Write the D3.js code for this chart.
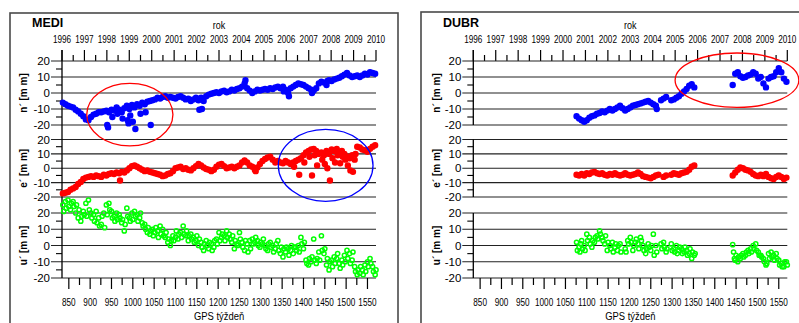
<!DOCTYPE html>
<html>
<head>
<meta charset="utf-8">
<script src="https://cdn.jsdelivr.net/npm/d3@7"></script>
<style>
  body { margin: 0; background: #fff; }
  svg { display: block; font-family: "Liberation Sans", Arial, sans-serif; }
</style>
</head>
<body>
<svg id="chart" width="799" height="323"></svg>
<script>
// ── Data ────────────────────────────────────────────────────────────────
// Weekly GPS residuals (mm). One slot every 6 weeks from the start week;
// a slot holding an array lists successive observations (2 weeks apart).

const yearLabels = [1996, 1997, 1998, 1999, 2000, 2001, 2002, 2003, 2004, 2005, 2006, 2007, 2008, 2009, 2010];
const weekLabels = [850, 900, 950, 1000, 1050, 1100, 1150, 1200, 1250, 1300, 1350, 1400, 1450, 1500, 1550];
const weekMinorTicks = [875, 925, 975, 1025, 1075, 1125, 1175, 1225, 1275, 1325, 1375, 1425, 1475, 1525];
const valueTicks = [20, 10, 0, -10, -20];
const valueMinorTicks = [15, 5, -5, -15];

const MEDI_START = 836, DUBR_START = 1076, SLOT = 6;

const mediN = [
  -6, -7, -8, -8.5, -9, -10.5, -11.5, -13, -14.5, -16.5,
  -17, -15, -13.5, -13, -12, -12, -11.5, [-11, -20, -21.5], -12, [-10.5, -15],
  -11, [-9, -13], -10.5, [-12, -16], -9.5, [-8, -17, -19], [-10, -14], [-7.5, -18], [-9, -22.5], -7,
  [-8, -13], -6, [-7, -12], -5.5, [-5, -20], -4.5, -4, -3, -3.5, -2.5,
  -2, -3, -2.5, -3, -3.5, -2.5, -2, -3, -4, -3.5,
  -5, -4, -3, [-4.5, -10.5], [-3, -10], -5, -2, -1, -0.5, 0,
  0.5, 0, 1, 1.5, 0.5, 1, 2, 1.5, 2.5, 3,
  4, [6, 8], 3, 1.5, 0, 1, 2, 1.5, 2, 2.5,
  2, 3, 2.5, 3.5, 4, 3, [4, 1], 2, [0, -2], 3,
  4, 5, 6, 5.5, 5, 4, 3, [2, 0], 1.5, 3,
  6, 7, 6.5, [5, 7.5], 8, 7.5, 8.5, 9, 9.5, 10.5,
  11.5, 12.5, 11, 10, 10.5, 11, 10, 11, 12, 11.5,
  13, 12.5, 12
];

const mediE = [
  -17.5, -17, -16.5, -15, -14, -13, -11, -9.5, -7.5, -6.5,
  -6, -5.5, -6, -5, -5.5, -6, -4.5, -5, -4, -3.5,
  -4, -3, [-3.5, -8.5], -2.5, -3, -1.5, 0, 1.5, 2, 1,
  0, -1, -2, -1.5, -2.5, -3, -3.5, -4, -4.5, -5.5,
  -5, -4, -3.5, -2, 0, 0.5, 1, -0.5, 0, -1,
  -1.5, 0, 1.5, 3, 2, 0.5, -0.5, -1, -2, -1,
  1, 2.5, 3, 1.5, 0, 0.5, 1, 0, 1, 2,
  4, 5.5, 4, 2, 1, [-1, -2], 0.5, 3, 5, 6.5,
  7.5, 8, 6, 4, 5, 4, 3.5, 5, 4, 3,
  [4, 1], 5, [6, -4.5], 7, [9, 4], 11, [12, 8], [13, -5], [13.5, 9], [12, 2],
  10, [11, 6], [9, 3], [12, 0], [10, -8.5], [13, 7], [12, 4], [13.5, 9], [11, 3.5], [12, 8],
  [10, 6], [8, 2], [7, -1.5], [9, -2.5], [6, 10], 15, 14.5, 13, 12.5, 11.5,
  13.5, 15, 16
];

const mediU = [
  [25, 21], [27, 23], [28, 24], [22, 26], [27, 24], [20, 25], [17, 22], [15, 18], [21, 19], [26, 18],
  [28, 22], [20, 17], [19, 15], [21, 14], [17, 12], [13, 18], [20, 11], [25, 19], [26, 22], [21, 17],
  [18, 15], [20, 16], [19, 17], [14, 16], [9, 13], [23, 18], [17, 15], [20, 16], [21, 18], [19, 15],
  [17, 20], [14, 12], [13, 10], [8, 11], [7, 9], [10, 6], [8, 11], [9, 5], [12, 7], [10, 6],
  [5, 8], [2, 4], [0, 3], [6, 3], [5, 9], [4, 7], [8, 5], [12, 7], [6, 9], [3, 6],
  [7, 4], [5, 2], [3, 6], [0, 4], [2, -1], [-3, 1], [3, 0], [-2, 2], [1, -3], [-1, 3],
  [4, 1], [8, 3], [5, 7], [6, 3], [9, 5], [7, 4], [2, 6], [-2, 3], [1, 0], [8, 4],
  [2, -1], [-3, 3], [1, -4], [3, -2], [4, 1], [2, 5], [3, 0], [-1, 2], [1, 4], [0, -2],
  [-3, 1], [2, -1], [0, -4], [-2, 1], [3, -3], [-5, -1], [-7, -2], [-4, -1], [-2, -6], [-3, 0],
  [-5, -1], [-1, -3], [0, -4], [5, 1], [-2, 2], [-9, -11], [-12, -8], [-10, -7], [4, -9], [-11, -8],
  [-4, -9], [6, -3], [-5, -2], [-12, -8], [-15, -10], [-9, -13], [-7, -11], [-8, -5], [-11, -14], [-9, -12],
  [-6, -10], [-3, -8], [-5, -11], [-9, -4], [-13, -16], [-18, -15], [-17, -13], [-15, -18], [-12, -16], [-10, -13],
  [-8, -11], [-13, -16], [-18, -15]
];

const dubrN = [
  -14.5, -16, -17, -18, -17, -15.5, -14.5, -14, -13, -12.5,
  -11.5, -12, -11, -10, -11, -10, -9, -8, -9.5, -11,
  -10, -9, -8, -7.5, -7, -6.5, -6, -5.5, -5, -6,
  -7, [-8, -10], null, -4.5, -3.5, -2.5, null, -4.5, -4, -3,
  -2, -0.5, 1, 2.5, 4.5, 5.5, 3.5, null, null, null,
  null, null, null, null, null, null, null, null, null, null,
  null, 5, 12, 13, 10.5, 9.5, 10, 11, 11.5, 13,
  12, 9, 10, 6, 3.5, 9, 10, 10.5, 13, 15.5,
  13, 9, 7
];

const dubrE = [
  -4.5, -5, -4, -5, -3.5, -4, -3, -2.5, -3.5, -4,
  -3.5, -4.5, -5, -4, -4.5, -3.5, -4.5, -5, -4.5, -3.5,
  -4.5, -5, -4.5, -4, -3, -4, -5.5, -6, -6.5, -7,
  -6, -5, -4.5, null, -6, -5, null, -4.5, -3.5, -4,
  -4.5, -3.5, -3, -2.5, -1, 1, 2, null, null, null,
  null, null, null, null, null, null, null, null, null, null,
  null, -5, -3, -1, 0.5, 0, -1, -1.5, -2.5, -4,
  -5, -5.5, -4.5, -5.5, -4, -6, -7, -7.5, -6, -5,
  -6, -7.5, -6.5
];

const dubrU = [
  [2, -3], [-1, -4, 1], [3, -2], [0, -3], [7, 3], [5, 1], [-1, 3], [2, 5], [6, 4], [9, 7],
  [5, 3], [1, 6], [-3, 2], [0, -2], [2, -4], [-1, 1], [-3, 0], [1, -4], null, [-2, -4],
  [3, 1], [5, 2], [-3, 0], [2, 4], [1, -2], [5, 3], [0, -3], [-5, -2], [1, -1], [-3, 0],
  [7, -6], [0, -4], null, [1, -2], [2, -1], [-4, -2], null, [1, -3], [-2, -4], [0, -5],
  [-3, -1], [-2, -5], [-4, -1], [-3, -6], [-5, -2], [-8, -4], [-6, -5], null, null, null,
  null, null, null, null, null, null, null, null, null, null,
  null, [0.5, -4, -8], [-9, -6], [-10, -7], [-8, -6], [-5, -7], [-6, -4], [-3, -5], [-2, -4], [0, -2],
  [1, -3], [-4, -6], [-6, -7], [-8, -10], [-12, -11], [-5, -8], [-4, -7], [-6, -9], [-5, -8], [-9, -12],
  [-11, -13], [-13, -10], [-10, -12]
];

// Hand-drawn highlight ellipses, in data units (week, mm)
const mediRings = [
  { row: 'n', week: 993, value: -13.5, rWeeks: 101, rMm: 19.5, color: '#ff0000' },
  { row: 'e', week: 1452, value: 2, rWeeks: 111, rMm: 25, color: '#0000ff' }
];
const dubrRings = [
  { row: 'n', week: 1452, value: 8, rWeeks: 145, rMm: 17, color: '#ff0000' }
];

// ── Layout ──────────────────────────────────────────────────────────────

const ROWS = [
  { key: 'n', label: 'n\u00b4 [m m]', top: 61, bottom: 125, color: '#0000ff', fill: true },
  { key: 'e', label: 'e\u00b4 [m m]', top: 139.5, bottom: 197, color: '#ff0000', fill: true },
  { key: 'u', label: 'u\u00b4 [m m]', top: 213, bottom: 278, color: '#00ff00', fill: false }
];

const PLOT_W = 314;
const NARROW = 0.82; // Arial Narrow look, via horizontal squeeze

const panels = [
  { name: 'MEDI', x0: 62, frame: { x: 10, y: 13, w: 388 }, titleX: 32, labelX: 23,
    start: MEDI_START, series: { n: mediN, e: mediE, u: mediU }, rings: mediRings, splitAxis: false },
  { name: 'DUBR', x0: 473.3, frame: { x: 421, y: 12, w: 500 }, titleX: 443, labelX: 436,
    start: DUBR_START, series: { n: dubrN, e: dubrE, u: dubrU }, rings: dubrRings, splitAxis: true }
];

function expand(start, vals) {
  const out = [];
  vals.forEach((v, i) => {
    if (v == null) return;
    const w = start + i * SLOT;
    (Array.isArray(v) ? v : [v]).forEach((y, k) => out.push({ w: w + k * 2, y }));
  });
  return out;
}

function narrow(sel, fx, fy) {
  return sel.attr('transform', (d, i) => `translate(${fx(d, i)},${fy(d, i)}) scale(${NARROW},1)`)
    .attr('text-anchor', 'middle');
}

const svg = d3.select('#chart');

panels.forEach(p => {
  const g = svg.append('g');
  const x = d3.scaleLinear().domain([834, 1570]).range([p.x0, p.x0 + PLOT_W]);
  const xYear = d3.scaleLinear().domain([1996, 2010]).range([p.x0, p.x0 + PLOT_W]);
  const x1 = p.x0 + PLOT_W;
  const xc = (p.x0 + x1) / 2;

  // frame
  g.append('rect')
    .attr('x', p.frame.x).attr('y', p.frame.y)
    .attr('width', p.frame.w).attr('height', 400)
    .attr('fill', 'none').attr('stroke', '#4a4a4a').attr('stroke-width', 1.6);

  // title + top year axis
  g.append('text').attr('x', p.titleX).attr('y', 27)
    .attr('font-weight', 'bold').attr('font-size', 12.5).text(p.name);
  narrow(g.append('text').datum(0), () => xc, () => 29)
    .attr('font-size', 11).text('rok');

  narrow(g.selectAll('.yl').data(yearLabels).enter().append('text'), d => xYear(d), () => 43)
    .attr('font-size', 10).text(d => d);

  const halfYears = d3.range(yearLabels.length * 2 - 1).map(i => 1996 + i / 2);
  g.selectAll('.yt').data(halfYears).enter().append('line')
    .attr('x1', d => xYear(d)).attr('x2', d => xYear(d))
    .attr('y1', d => (d % 1 === 0 ? 50 : 55)).attr('y2', ROWS[0].top)
    .attr('stroke', '#000').attr('stroke-width', 1.2);

  ROWS.forEach(r => {
    const y = d3.scaleLinear().domain([-20, 20]).range([r.bottom, r.top]);
    r.scale = y;
    const rg = g.append('g');

    rg.selectAll('.grid').data(valueTicks).enter().append('line')
      .attr('x1', p.x0 - 11).attr('x2', x1)
      .attr('y1', d => y(d)).attr('y2', d => y(d))
      .attr('stroke', '#222').attr('stroke-width', 1.1);

    rg.selectAll('.minor').data(valueMinorTicks).enter().append('line')
      .attr('x1', p.x0 - 6).attr('x2', p.x0)
      .attr('y1', d => y(d)).attr('y2', d => y(d))
      .attr('stroke', '#000').attr('stroke-width', 1.1);

    rg.selectAll('.tl').data(valueTicks).enter().append('text')
      .attr('x', p.x0 - 12).attr('y', d => y(d)).attr('dy', '0.36em')
      .attr('text-anchor', 'end').attr('font-size', 11.5).text(d => d);

    if (p.splitAxis) {
      rg.append('line')
        .attr('x1', p.x0).attr('x2', p.x0)
        .attr('y1', r.key === 'n' ? 50 : r.top).attr('y2', r.bottom)
        .attr('stroke', '#000').attr('stroke-width', 1.3);
    }

    rg.append('text')
      .attr('transform', `translate(${p.labelX},${(r.top + r.bottom) / 2}) rotate(-90)`)
      .attr('text-anchor', 'middle').attr('dy', '0.36em')
      .attr('font-weight', 'bold').attr('font-size', 10).text(r.label);
  });

  if (!p.splitAxis) {
    g.append('line')
      .attr('x1', p.x0).attr('x2', p.x0).attr('y1', 50).attr('y2', ROWS[2].bottom)
      .attr('stroke', '#000').attr('stroke-width', 1.3);
  }

  // bottom week axis
  const yb = ROWS[2].bottom;
  g.selectAll('.wt').data(weekLabels).enter().append('line')
    .attr('x1', d => x(d)).attr('x2', d => x(d)).attr('y1', yb).attr('y2', yb + 11)
    .attr('stroke', '#000').attr('stroke-width', 1.2);
  g.selectAll('.wm').data(weekMinorTicks).enter().append('line')
    .attr('x1', d => x(d)).attr('x2', d => x(d)).attr('y1', yb).attr('y2', yb + 7)
    .attr('stroke', '#000').attr('stroke-width', 1.2);
  narrow(g.selectAll('.wl').data(weekLabels).enter().append('text'), d => x(d), () => 306)
    .attr('font-size', 10).text(d => d);
  narrow(g.append('text').datum(0), () => xc, () => 320)
    .attr('font-size', 11.5).text('GPS týždeň');

  // points
  ROWS.forEach(r => {
    const pts = expand(p.start, p.series[r.key]);
    g.append('g').selectAll('circle').data(pts).enter().append('circle')
      .attr('cx', d => x(d.w)).attr('cy', d => r.scale(d.y)).attr('r', r.fill ? 2.5 : 2.1)
      .attr('fill', r.fill ? r.color : 'none')
      .attr('stroke', r.color).attr('stroke-width', r.fill ? 1.4 : 1.5);
  });

  // highlight ellipses
  p.rings.forEach(e => {
    const r = ROWS.find(rr => rr.key === e.row);
    g.append('ellipse')
      .attr('cx', x(e.week)).attr('cy', r.scale(e.value))
      .attr('rx', x(834 + e.rWeeks) - x(834))
      .attr('ry', r.scale(0) - r.scale(e.rMm))
      .attr('fill', 'none').attr('stroke', e.color).attr('stroke-width', 1.3);
  });
});
</script>
</body>
</html>
